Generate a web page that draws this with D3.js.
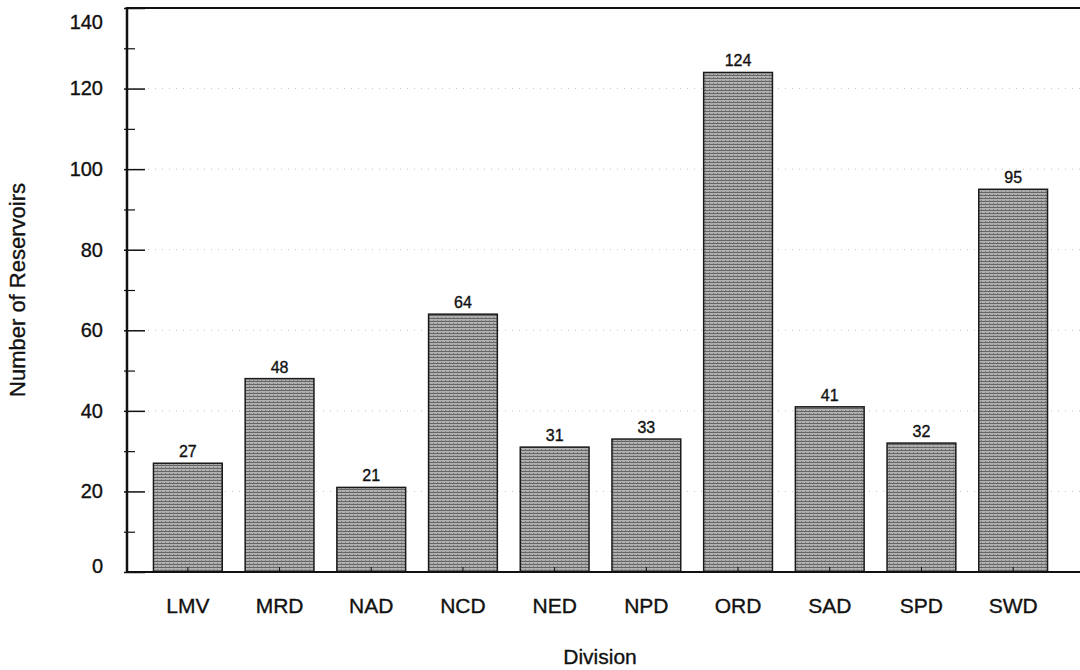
<!DOCTYPE html>
<meta charset="utf-8">
<style>
body { margin: 0; background: #fff; }
text { font-family: "Liberation Sans", Arial, sans-serif; fill: #111; stroke: #111; stroke-width: 0.35px; }
.grid line { stroke: #c4c4c4; stroke-dasharray: 1,6; stroke-width: 1px; }
.bar { stroke: #1a1a1a; stroke-width: 1.5px; }
.val { font-size: 16px; text-anchor: middle; }
</style>
<svg width="1080" height="670"></svg>
<script src="https://cdn.jsdelivr.net/npm/d3@7"></script>
<script>

var divisions = ["LMV", "MRD", "NAD", "NCD", "NED", "NPD", "ORD", "SAD", "SPD", "SWD"];
var reservoirs = [27, 48, 21, 64, 31, 33, 124, 41, 32, 95];
var yTicks = [0, 20, 40, 60, 80, 100, 120, 140];
var yMinor = [10, 30, 50, 70, 90, 110, 130];

var svg = d3.select("svg");

var plotLeft = 127, plotTop = 8, plotBottom = 572, plotRight = 1080;

var x = d3.scaleBand()
    .domain(divisions)
    .range([142, 1059])
    .paddingInner(0.25)
    .paddingOuter(0.125);

var y = d3.scaleLinear()
    .domain([0, 140])
    .range([plotBottom, plotTop]);

// stipple pattern for the bars
var defs = svg.append("defs");
var pat = defs.append("pattern")
    .attr("id", "stip")
    .attr("width", 4).attr("height", 3)
    .attr("patternUnits", "userSpaceOnUse");
pat.append("rect").attr("width", 4).attr("height", 3).attr("fill", "#b0b0b0");
pat.append("rect").attr("width", 4).attr("height", 1).attr("fill", "#666");
pat.append("rect").attr("x", 1).attr("y", 2).attr("width", 1).attr("height", 1).attr("fill", "#808080");

// gridlines
svg.append("g")
    .attr("class", "grid")
  .selectAll("line")
    .data(yTicks.slice(1, -1))
  .enter().append("line")
    .attr("x1", plotLeft).attr("x2", plotRight)
    .attr("y1", function(d) { return y(d); })
    .attr("y2", function(d) { return y(d); });

// bars
svg.append("g")
  .selectAll("rect")
    .data(reservoirs)
  .enter().append("rect")
    .attr("class", "bar")
    .attr("x", function(d, i) { return x(divisions[i]); })
    .attr("width", x.bandwidth())
    .attr("y", function(d) { return y(d); })
    .attr("height", function(d) { return y(0) - y(d); })
    .attr("fill", "url(#stip)");

// value labels
svg.append("g")
  .selectAll("text")
    .data(reservoirs)
  .enter().append("text")
    .attr("class", "val")
    .attr("x", function(d, i) { return x(divisions[i]) + x.bandwidth() / 2; })
    .attr("y", function(d) { return y(d) - 6; })
    .text(function(d) { return d; });

// y axis
var gy = svg.append("g")
    .attr("transform", "translate(" + plotLeft + ",0)")
    .call(d3.axisLeft(y).tickValues(yTicks).tickSize(-18).tickPadding(24));
gy.select(".domain").remove();
gy.selectAll(".tick line").attr("stroke", "#111").attr("stroke-width", 1.5)
    .attr("x1", -3);
gy.selectAll(".tick text")
    .style("font-family", "Liberation Sans, Arial, sans-serif")
    .style("font-size", "20px")
    .attr("fill", "#111")
    .attr("dy", function(d) { return d === 140 ? "1.0em" : (d === 0 ? "0.0em" : "0.32em"); });

var gm = svg.append("g")
    .attr("transform", "translate(" + plotLeft + ",0)")
    .call(d3.axisLeft(y).tickValues(yMinor).tickSize(-8).tickFormat(""));
gm.select(".domain").remove();
gm.selectAll(".tick line").attr("stroke", "#111").attr("stroke-width", 1.2).attr("x1", -3);

// x axis
var gx = svg.append("g")
    .attr("transform", "translate(0," + plotBottom + ")")
    .call(d3.axisBottom(x).tickSize(-5).tickPadding(26));
gx.select(".domain").remove();
gx.selectAll(".tick line").attr("stroke", "#111");
gx.selectAll(".tick text")
    .style("font-family", "Liberation Sans, Arial, sans-serif")
    .style("font-size", "21px")
    .attr("fill", "#111");

// frame lines
svg.append("line")
    .attr("x1", plotLeft).attr("x2", plotLeft).attr("y1", plotTop - 1).attr("y2", plotBottom + 1)
    .attr("stroke", "#111").attr("stroke-width", 2.5);
svg.append("line")
    .attr("x1", plotLeft).attr("x2", plotRight).attr("y1", plotTop).attr("y2", plotTop)
    .attr("stroke", "#111").attr("stroke-width", 2);
svg.append("line")
    .attr("x1", plotLeft).attr("x2", plotRight).attr("y1", plotBottom).attr("y2", plotBottom)
    .attr("stroke", "#111").attr("stroke-width", 2);

// axis titles
svg.append("text")
    .attr("x", 600).attr("y", 664)
    .attr("text-anchor", "middle")
    .style("font-size", "21px")
    .text("Division");

svg.append("text")
    .attr("transform", "translate(25,290) rotate(-90)")
    .attr("text-anchor", "middle")
    .style("font-size", "22px")
    .text("Number of Reservoirs");

</script>
